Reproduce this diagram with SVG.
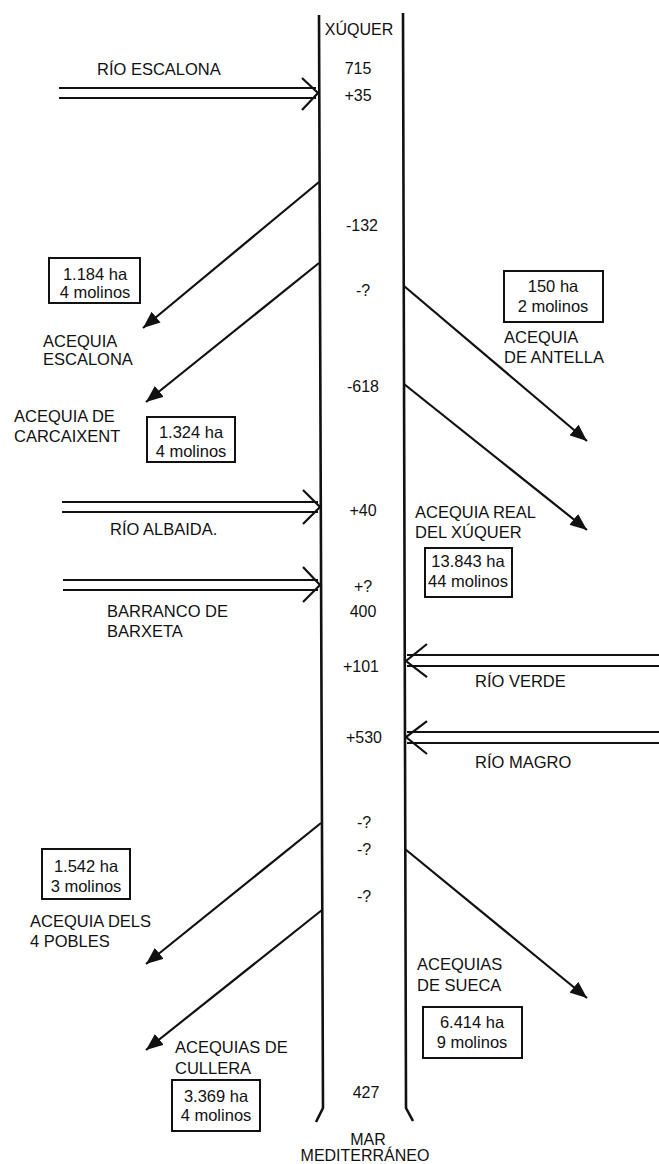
<svg xmlns="http://www.w3.org/2000/svg" width="659" height="1164" viewBox="0 0 659 1164">
<style>
text{font-family:"Liberation Sans",Arial,sans-serif;font-size:16.5px;fill:#111}
.n{font-size:16px;text-anchor:middle}
.c{text-anchor:middle}
.bank{fill:none;stroke:#111;stroke-width:2.6}
.dl{stroke:#111;stroke-width:2.2;fill:none}
.chev{fill:none;stroke:#111;stroke-width:2.2}
.diag{stroke:#111;stroke-width:2.2;fill:none;marker-end:url(#ah)}
.box{fill:#fff;stroke:#111;stroke-width:2}
</style>
<defs>
<marker id="ah" markerUnits="userSpaceOnUse" markerWidth="18" markerHeight="14" refX="17" refY="7" orient="auto">
<path d="M0,0 L17,7 L0,14 z" fill="#111"/>
</marker>
</defs>
<rect width="659" height="1164" fill="#fff"/>

<g id="river">
<path class="bank" d="M319,15 L323,1108 L316,1122" stroke-width="3"/>
<path class="bank" d="M403,13 L406,1108 L413,1121" stroke-width="2.2"/>
<text class="n" x="359" y="35" font-size="15">XÚQUER</text>
<text class="n" x="358" y="74">715</text>
<text class="n" x="358" y="101">+35</text>
<text class="n" x="362" y="231">-132</text>
<text class="n" x="363" y="296">-?</text>
<text class="n" x="363" y="392">-618</text>
<text class="n" x="363" y="516">+40</text>
<text class="n" x="363" y="592">+?</text>
<text class="n" x="363" y="617">400</text>
<text class="n" x="361" y="672">+101</text>
<text class="n" x="364" y="743">+530</text>
<text class="n" x="364" y="828">-?</text>
<text class="n" x="364" y="855">-?</text>
<text class="n" x="364" y="902">-?</text>
<text class="n" x="366" y="1098">427</text>
<text class="n" x="368" y="1145">MAR</text>
<text class="n" x="365" y="1161">MEDITERRÁNEO</text>
</g>

<g id="connectors">
<line class="dl" x1="59" y1="88" x2="316" y2="88"/>
<line class="dl" x1="59" y1="98" x2="316" y2="98"/>
<polyline class="chev" points="302,78 318,93 302,110"/>
<line class="dl" x1="62" y1="502" x2="318" y2="502"/>
<line class="dl" x1="62" y1="512" x2="318" y2="512"/>
<polyline class="chev" points="303,490 320,507 303,524"/>
<line class="dl" x1="63" y1="580" x2="318" y2="580"/>
<line class="dl" x1="63" y1="590" x2="318" y2="590"/>
<polyline class="chev" points="303,567 320,585 303,602"/>
<line class="dl" x1="407" y1="655" x2="659" y2="655"/>
<line class="dl" x1="407" y1="666" x2="659" y2="666"/>
<polyline class="chev" points="427,644 406,661 427,677"/>
<line class="dl" x1="407" y1="732" x2="659" y2="732"/>
<line class="dl" x1="407" y1="743" x2="659" y2="743"/>
<polyline class="chev" points="427,721 406,737 427,754"/>
<line class="diag" x1="319" y1="182" x2="143" y2="328"/>
<line class="diag" x1="319" y1="263" x2="146" y2="402"/>
<line class="diag" x1="404" y1="286" x2="587" y2="441"/>
<line class="diag" x1="404" y1="384" x2="587" y2="530"/>
<line class="diag" x1="321" y1="823" x2="146" y2="964"/>
<line class="diag" x1="322" y1="910" x2="146" y2="1050"/>
<line class="diag" x1="405" y1="849" x2="587" y2="998"/>
</g>

<g id="rio-escalona"><text x="97" y="75">RÍO ESCALONA</text></g>
<g id="rio-albaida"><text x="110" y="535">RÍO ALBAIDA.</text></g>
<g id="barranco-barxeta"><text x="107" y="617">BARRANCO DE</text><text x="107" y="637">BARXETA</text></g>
<g id="rio-verde"><text x="475" y="687">RÍO VERDE</text></g>
<g id="rio-magro"><text x="475" y="768">RÍO MAGRO</text></g>

<g id="acequia-escalona">
<rect class="box" x="49" y="258" width="91" height="45"/>
<text class="c" x="95" y="280">1.184 ha</text>
<text class="c" x="95" y="298">4 molinos</text>
<text x="43" y="347">ACEQUIA</text>
<text x="43" y="365">ESCALONA</text>
</g>

<g id="acequia-carcaixent">
<text x="14" y="422">ACEQUIA DE</text>
<text x="14" y="442">CARCAIXENT</text>
<rect class="box" x="147" y="417" width="88" height="45"/>
<text class="c" x="191" y="438">1.324 ha</text>
<text class="c" x="191" y="457">4 molinos</text>
</g>

<g id="acequia-antella">
<rect class="box" x="504" y="271" width="99" height="51"/>
<text class="c" x="553" y="292">150 ha</text>
<text class="c" x="553" y="312">2 molinos</text>
<text x="504" y="343">ACEQUIA</text>
<text x="504" y="363">DE ANTELLA</text>
</g>

<g id="acequia-real">
<text x="415" y="518">ACEQUIA REAL</text>
<text x="415" y="538">DEL XÚQUER</text>
<rect class="box" x="425" y="548" width="87" height="49"/>
<text class="c" x="468" y="567">13.843 ha</text>
<text class="c" x="468" y="587">44 molinos</text>
</g>

<g id="acequia-4-pobles">
<rect class="box" x="42" y="849" width="88" height="50"/>
<text class="c" x="86" y="872">1.542 ha</text>
<text class="c" x="86" y="892">3 molinos</text>
<text x="30" y="927">ACEQUIA DELS</text>
<text x="30" y="947">4 POBLES</text>
</g>

<g id="acequias-sueca">
<text x="417" y="970">ACEQUIAS</text>
<text x="417" y="991">DE SUECA</text>
<rect class="box" x="423" y="1007" width="99" height="51"/>
<text class="c" x="472" y="1028">6.414 ha</text>
<text class="c" x="472" y="1048">9 molinos</text>
</g>

<g id="acequias-cullera">
<text x="175" y="1053">ACEQUIAS DE</text>
<text x="175" y="1074">CULLERA</text>
<rect class="box" x="172" y="1080" width="88" height="51"/>
<text class="c" x="216" y="1102">3.369 ha</text>
<text class="c" x="216" y="1121">4 molinos</text>
</g>
</svg>
